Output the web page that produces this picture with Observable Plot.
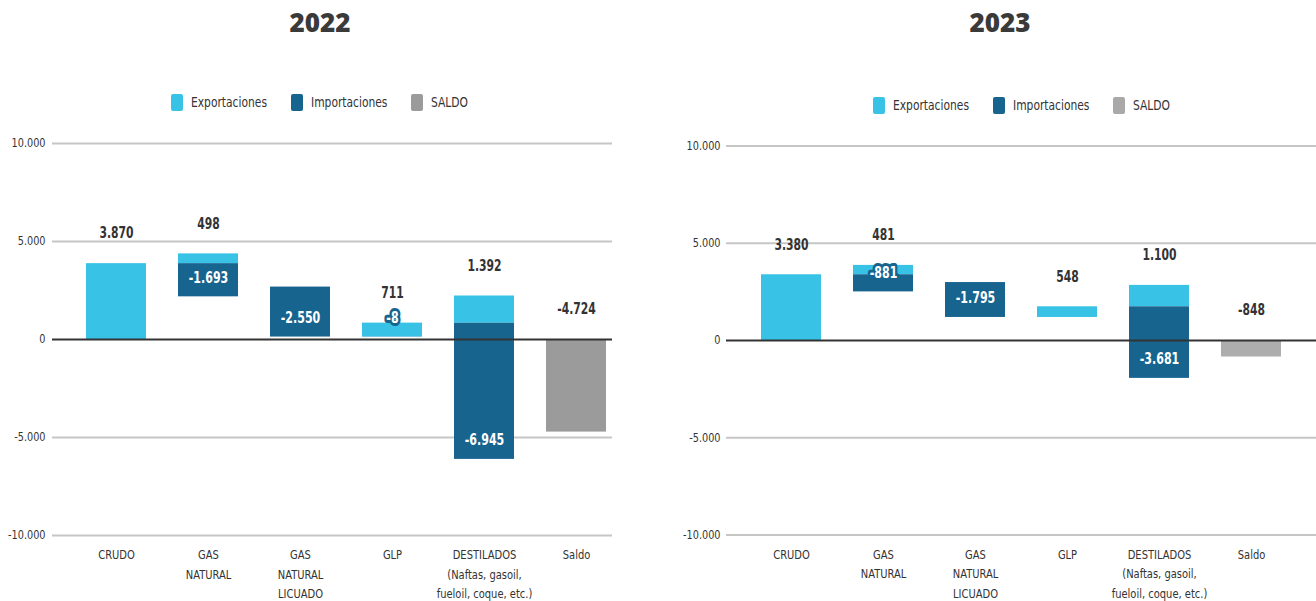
<!DOCTYPE html>
<html>
<head>
<meta charset="utf-8">
<script src="https://cdn.jsdelivr.net/npm/d3@7"></script>
<script src="https://cdn.jsdelivr.net/npm/@observablehq/plot@0.6"></script>
<style>
  html, body { margin: 0; padding: 0; background: #fff; }
  #wrap { position: relative; width: 1316px; height: 601px; overflow: hidden; font-family: "DejaVu Sans Condensed", sans-serif; color: #333; }
  .title { position: absolute; top: 4px; height: 36px; line-height: 36px; text-align: center; font-family: "Open Sans", sans-serif; font-weight: 800; font-size: 26px; color: #3a3a3a; }
  .legend { position: absolute; display: flex; align-items: center; font-size: 14px; color: #333; height: 20px; }
  .legend .sw { width: 12px; height: 17px; border-radius: 2px; margin-right: 8px; flex: none; }
  .legend .item { display: flex; align-items: center; margin-right: 24px; }
  .legend .lbl { display: inline-block; white-space: nowrap; overflow: visible; }
  .legend .lbl span { display: inline-block; transform-origin: left center; transform: scaleX(0.85); }
  .chart { position: absolute; top: 125px; }
</style>
</head>
<body>
<div id="wrap"></div>
<script>
const categories = ["CRUDO", "GAS NATURAL", "GAS NATURAL LICUADO", "GLP", "DESTILADOS", "Saldo"];
const categoryLabels = ["CRUDO", "GAS\nNATURAL", "GAS\nNATURAL\nLICUADO", "GLP", "DESTILADOS\n(Naftas, gasoil,\nfueloil, coque, etc.)", "Saldo"];
const years = ["2022", "2023"];
const legendLabels = ["Exportaciones", "Importaciones", "SALDO"];
const exports2022 = [3870, 498, 0, 711, 1392];
const imports2022 = [0, -1693, -2550, -8, -6945];
const saldo2022 = -4724;
const exports2023 = [3380, 481, 0, 548, 1100];
const imports2023 = [0, -881, -1795, 0, -3681];
const saldo2023 = -848;
const yTicks = [-10000, -5000, 0, 5000, 10000];

const LIGHT = "#38c3e6";
const DARK = "#17648f";
const fmt = d3.formatLocale({decimal: ",", thousands: ".", grouping: [3], currency: ["$", ""], minus: "-"}).format(",d");
const labelOf = new Map(categories.map((c, i) => [c, categoryLabels[i]]));
const FONT = '"DejaVu Sans Condensed", sans-serif';

function buildRows(exp, imp, saldo) {
  const expRows = [], impRows = [];
  let base = 0;
  exp.forEach((e, i) => {
    const c = categories[i];
    expRows.push({cat: c, y1: base, y2: base + e, v: e});
    impRows.push({cat: c, y1: base, y2: base + imp[i], v: imp[i]});
    base += e + imp[i];
  });
  const saldoRow = {cat: categories[5], y1: 0, y2: saldo, v: saldo};
  return {expRows, impRows, saldoRow};
}

// horizontally condense text glyphs (keeps them as real text)
function condenseEls(els, s) {
  els.forEach(t => {
    const tr = t.getAttribute("transform");
    if (tr) t.setAttribute("transform", tr + ` scale(${s},1)`);
    else {
      const x = +(t.getAttribute("x") || 0), y = +(t.getAttribute("y") || 0);
      t.setAttribute("transform", `translate(${x},${y}) scale(${s},1) translate(${-x},${-y})`);
    }
  });
}

function chart(exp, imp, saldo, o) {
  const {expRows, impRows, saldoRow} = buildRows(exp, imp, saldo);
  const topLabels = expRows.filter(d => d.v !== 0).map(d => ({cat: d.cat, y: d.y2, v: d.v}));
  topLabels.push({cat: saldoRow.cat, y: Math.max(0, saldoRow.y2), v: saldoRow.v});
  const impLabels = impRows.filter(d => d.v !== 0);
  const svg = Plot.plot({
    width: 658,
    height: 476,
    marginLeft: o.ml,
    marginRight: o.mr,
    marginTop: o.mt,
    marginBottom: o.mb,
    style: {fontFamily: FONT, color: "#333", background: "transparent", overflow: "visible"},
    x: {domain: categories, range: o.xr, paddingInner: 0.35, paddingOuter: 0.175},
    y: {domain: [-10000, 10000]},
    marks: [
      Plot.ruleY(yTicks.filter(t => t !== 0), {stroke: "#c6c6c6", strokeWidth: 2}),
      Plot.axisY({ticks: yTicks, tickSize: 0, tickPadding: o.tp, tickFormat: fmt, fontSize: 12, label: null, fill: "#333"}),
      Plot.axisX({tickSize: 0, tickPadding: 10, tickFormat: d => labelOf.get(d), fontSize: 13, lineHeight: 1.5, label: null, fill: "#333"}),
      Plot.rectY(expRows.filter(d => d.v !== 0), {x: "cat", y1: "y1", y2: "y2", fill: LIGHT}),
      Plot.rectY(impRows.filter(d => d.v !== 0), {x: "cat", y1: "y1", y2: "y2", fill: DARK}),
      Plot.rectY([saldoRow], {x: "cat", y1: "y1", y2: "y2", fill: o.gray}),
      Plot.ruleY([0], {stroke: "#333", strokeWidth: 2}),
      Plot.text(topLabels, {x: "cat", y: "y", text: d => fmt(d.v), dy: -30, fill: "#333", fontSize: 15, fontWeight: "bold"}),
      Plot.text(impLabels, {x: "cat", y: "y2", text: d => fmt(d.v), dy: -19, fill: "white", stroke: DARK, strokeWidth: 6, fontSize: 15, fontWeight: "bold"})
    ]
  });
  condenseEls(svg.querySelectorAll('g[aria-label="y-axis tick label"] text'), 0.9);
  condenseEls(svg.querySelectorAll('g[aria-label="x-axis tick label"] text'), 0.85);
  const textGroups = svg.querySelectorAll('g[aria-label="text"]');
  if (textGroups[0]) condenseEls(textGroups[0].querySelectorAll("text"), 0.8);
  if (textGroups[1]) condenseEls(textGroups[1].querySelectorAll("text"), 0.82);
  return svg;
}

const wrap = document.getElementById("wrap");

function addTitle(text, left, width) {
  const t = document.createElement("div");
  t.className = "title";
  t.style.left = left + "px";
  t.style.width = width + "px";
  t.textContent = text;
  wrap.appendChild(t);
}
function addLegend(left, top, gray) {
  const lg = document.createElement("div");
  lg.className = "legend";
  lg.style.left = left + "px";
  lg.style.top = top + "px";
  const cols = [LIGHT, DARK, gray];
  wrap.appendChild(lg);
  legendLabels.forEach((l, i) => {
    const it = document.createElement("div");
    it.className = "item";
    const sw = document.createElement("div");
    sw.className = "sw";
    sw.style.background = cols[i];
    const outer = document.createElement("div");
    outer.className = "lbl";
    const tx = document.createElement("span");
    tx.textContent = l;
    outer.appendChild(tx);
    it.appendChild(sw); it.appendChild(outer);
    lg.appendChild(it);
    outer.style.width = tx.getBoundingClientRect().width + "px";
  });
}

addTitle(years[0], 0, 640);
addTitle(years[1], 680, 640);
addLegend(171, 92, "#9b9b9b");
addLegend(873, 95, "#a9a9a9");

const c1 = chart(exports2022, imports2022, saldo2022, {ml: 52, mr: 46, mt: 18, mb: 66, xr: [67.7, 623.3], tp: 7, gray: "#9b9b9b"});
c1.classList.add("chart");
c1.style.left = "0px";
wrap.appendChild(c1);

const c2 = chart(exports2023, imports2023, saldo2023, {ml: 68, mr: 0, mt: 20.5, mb: 66.5, xr: [85.8, 640.2], tp: 6, gray: "#adadad"});
c2.classList.add("chart");
c2.style.left = "658px";
wrap.appendChild(c2);
</script>
</body>
</html>
